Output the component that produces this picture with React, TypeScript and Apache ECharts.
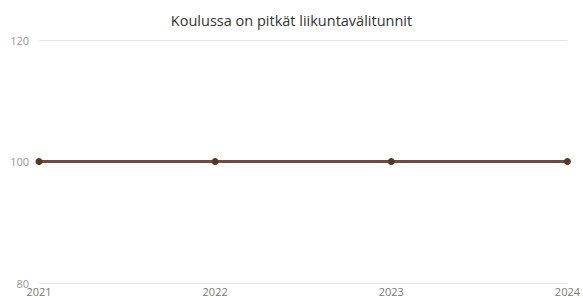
import React, { useEffect, useRef } from "react";
import * as echarts from "echarts";

const title = "Koulussa on pitkät liikuntavälitunnit";
const years = ["2021", "2022", "2023", "2024"];
const values = [100, 100, 100, 100];
const yMin = 80;
const yMax = 120;
const yInterval = 20;

export default function App() {
  const ref = useRef<HTMLDivElement>(null);
  useEffect(() => {
    if (!ref.current) return;
    const chart = echarts.init(ref.current, undefined, { renderer: "svg" });
    chart.setOption({
      animation: false,
      textStyle: { fontFamily: "'Open Sans', 'Noto Sans', sans-serif" },
      title: {
        text: title,
        left: "center",
        top: 8,
        textStyle: { fontSize: 14.5, fontWeight: "normal", color: "#333" },
      },
      grid: { left: 39, right: 15, top: 40, bottom: 15, containLabel: false },
      xAxis: {
        type: "category",
        data: years,
        boundaryGap: false,
        axisLine: { show: false },
        axisTick: { show: false },
        axisLabel: { color: "#777", fontSize: 11, margin: 3 },
        splitLine: { show: false },
      },
      yAxis: {
        type: "value",
        min: yMin,
        max: yMax,
        interval: yInterval,
        axisLine: { show: false },
        axisTick: { show: false },
        axisLabel: { color: "#999", fontSize: 11, margin: 10 },
        splitLine: { lineStyle: { color: "#e4e4e4", width: 1 } },
      },
      series: [
        {
          type: "line",
          data: values,
          symbol: "circle",
          symbolSize: 7,
          lineStyle: { color: "#6e4d40", width: 3 },
          itemStyle: { color: "#553629" },
        },
      ],
    });
    return () => chart.dispose();
  }, []);
  return (
    <div
      ref={ref}
      style={{ position: "fixed", left: 0, top: 0, width: 583, height: 298, background: "#fff" }}
    />
  );
}
